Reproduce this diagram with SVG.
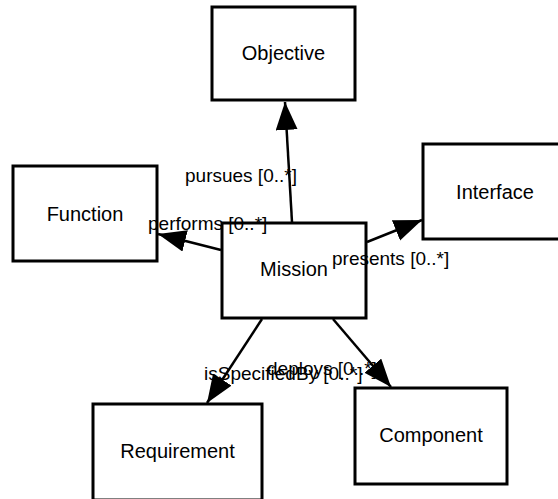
<svg xmlns="http://www.w3.org/2000/svg" width="558" height="499" viewBox="0 0 558 499">
<style>
.box{fill:#fff;stroke:#000;stroke-width:3}
.nt{font-family:"Liberation Sans",Arial,sans-serif;font-size:20px;fill:#000;text-anchor:middle}
.el{font-family:"Liberation Sans",Arial,sans-serif;font-size:19px;fill:#000}
.ln{stroke:#000;stroke-width:2.5;fill:none;marker-end:url(#ah)}
</style>
<defs>
<marker id="ah" markerUnits="userSpaceOnUse" markerWidth="30" markerHeight="24" refX="28" refY="11" orient="auto">
<path d="M0,0 L28,11 L0,22 z" fill="#000"/>
</marker>
</defs>
<rect width="558" height="499" fill="#fff"/>
<g id="objective"><rect class="box" x="212" y="7" width="143" height="93"/><text class="nt" x="283.5" y="60">Objective</text></g>
<g id="function"><rect class="box" x="13" y="166" width="144" height="95"/><text class="nt" x="85" y="221">Function</text></g>
<g id="interface"><rect class="box" x="423" y="144" width="144" height="95"/><text class="nt" x="495" y="199">Interface</text></g>
<g id="mission"><rect class="box" x="222" y="223" width="144" height="95"/><text class="nt" x="294" y="276">Mission</text></g>
<g id="requirement"><rect class="box" x="93" y="404" width="169" height="96"/><text class="nt" x="177.5" y="458">Requirement</text></g>
<g id="component"><rect class="box" x="355" y="388" width="152" height="96"/><text class="nt" x="431" y="442">Component</text></g>
<g id="connectors">
<line class="ln" x1="292" y1="222" x2="285" y2="102"/>
<line class="ln" x1="221" y1="250" x2="158" y2="234"/>
<line class="ln" x1="367" y1="242" x2="422" y2="220"/>
<line class="ln" x1="262" y1="319" x2="207" y2="403"/>
<line class="ln" x1="333" y1="319" x2="391" y2="387"/>
<text class="el" x="185" y="182">pursues [0..*]</text>
<text class="el" x="148" y="230">performs [0..*]</text>
<text class="el" x="332" y="265">presents [0..*]</text>
<text class="el" x="204" y="380">isSpecifiedBy [0..*]</text>
<text class="el" x="267" y="375">deploys [0..*]</text>
</g>
</svg>
